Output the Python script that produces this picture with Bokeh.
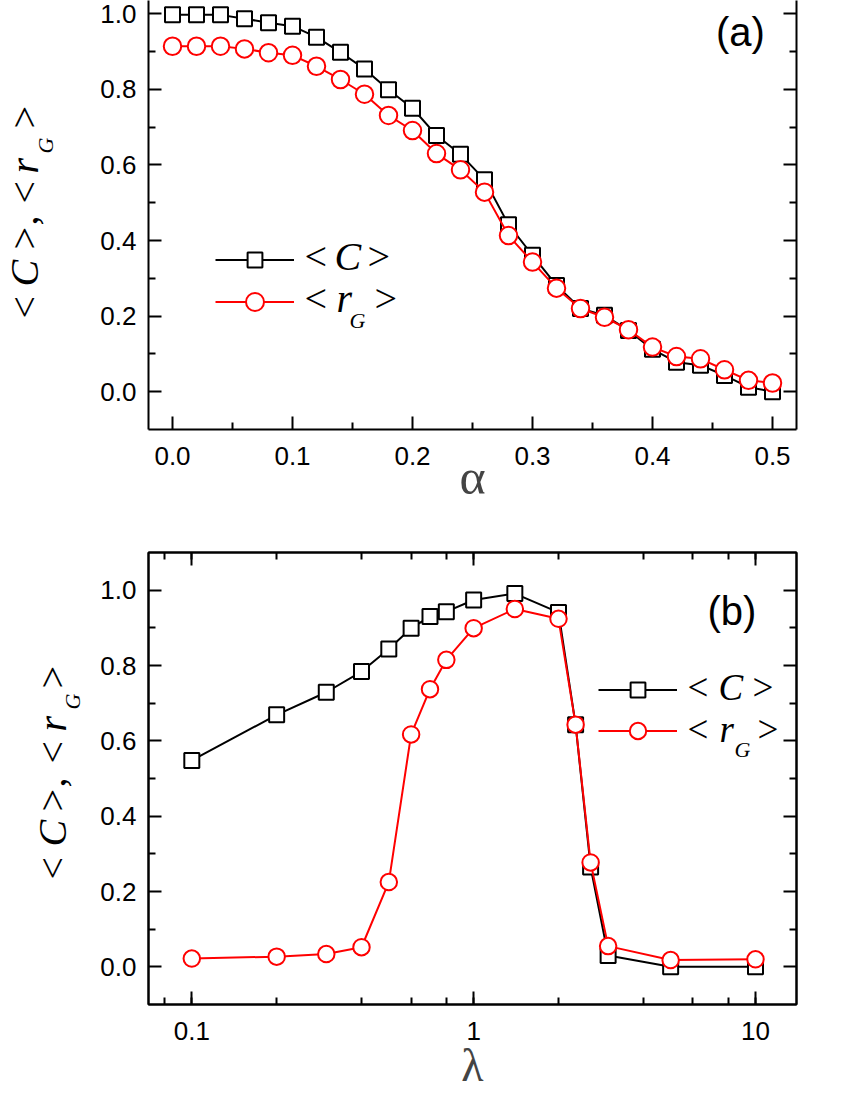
from math import pi
from bokeh.plotting import figure
from bokeh.models import (Range1d, LinearAxis, LogAxis, Legend, LegendItem, Label,
                          CustomJSTickFormatter, FixedTicker, LogTicker, PrintfTickFormatter)
from bokeh.layouts import column, row
from bokeh.embed import file_html
from bokeh.resources import INLINE

# ---------------- data ----------------
alpha = [0.00, 0.02, 0.04, 0.06, 0.08, 0.10, 0.12, 0.14, 0.16, 0.18, 0.20, 0.22, 0.24,
         0.26, 0.28, 0.30, 0.32, 0.34, 0.36, 0.38, 0.40, 0.42, 0.44, 0.46, 0.48, 0.50]
C_alpha = [0.997, 0.997, 0.997, 0.987, 0.976, 0.967, 0.938, 0.898, 0.854, 0.799, 0.750,
           0.678, 0.628, 0.561, 0.442, 0.361, 0.281, 0.220, 0.202, 0.162, 0.112, 0.078,
           0.070, 0.043, 0.012, 0.000]
rG_alpha = [0.914, 0.914, 0.914, 0.907, 0.897, 0.890, 0.861, 0.826, 0.787, 0.731, 0.691,
            0.630, 0.587, 0.528, 0.413, 0.343, 0.274, 0.220, 0.197, 0.164, 0.118, 0.093,
            0.087, 0.058, 0.030, 0.023]

lam = [0.1, 0.2, 0.3, 0.4, 0.5, 0.6, 0.7, 0.8, 1.0, 1.4, 2.0, 2.3, 2.6, 3.0, 5.0, 10.0]
C_lam = [0.548, 0.669, 0.729, 0.784, 0.844, 0.899, 0.930, 0.943, 0.974, 0.991, 0.941,
         0.643, 0.265, 0.030, 0.000, 0.000]
rG_lam = [0.022, 0.027, 0.034, 0.052, 0.225, 0.617, 0.737, 0.815, 0.899, 0.950, 0.924,
          0.643, 0.277, 0.055, 0.018, 0.020]

x_ticks_a = [0.0, 0.1, 0.2, 0.3, 0.4, 0.5]
x_minor_a = [0.05, 0.15, 0.25, 0.35, 0.45]
y_ticks = [0.0, 0.2, 0.4, 0.6, 0.8, 1.0]
y_minor = [0.1, 0.3, 0.5, 0.7, 0.9]

SERIF = "Liberation Serif"
SANS = "Liberation Sans"


def style_axis(ax, standoff=12, labels=True):
    ax.axis_line_width = 2
    ax.axis_line_color = "black"
    ax.major_tick_line_width = 2
    ax.minor_tick_line_width = 2
    ax.major_tick_in = 13
    ax.major_tick_out = 0
    ax.minor_tick_in = 7
    ax.minor_tick_out = 0
    ax.major_label_text_font = SANS
    ax.major_label_text_font_size = "26px"
    ax.major_label_text_color = "black"
    ax.major_label_standoff = standoff if labels else 0


def txt(p, x, y, text, size, italic=False, angle=0.0, font=SERIF):
    # (x, y): frame-relative pixels of the text's start and vertical middle
    p.add_layout(Label(x=x, y=y, x_units="screen", y_units="screen", text=text,
                       text_font=font, text_font_size=f"{size}px",
                       text_font_style="italic" if italic else "normal",
                       angle=angle, text_align="left", text_baseline="middle",
                       text_color="black"))


def legend_item(p, line_r, sc_r, x, y, gh):
    leg = Legend(items=[LegendItem(label=" ", renderers=[line_r, sc_r])],
                 location=(x, y), glyph_width=79, glyph_height=gh, padding=0, margin=0,
                 spacing=0, label_standoff=0, label_width=0, label_height=0,
                 label_text_font_size="1px", border_line_color=None,
                 background_fill_alpha=0)
    p.add_layout(leg)


def series(p, x, c, r, rsize):
    l1 = p.line(x, c, line_color="black", line_width=2)
    s1 = p.scatter(x, c, marker="square", size=15, line_color="black", line_width=2,
                   fill_color="white")
    l2 = p.line(x, r, line_color="#FF0000", line_width=2)
    s2 = p.scatter(x, r, marker="circle", size=rsize, line_color="#FF0000", line_width=2,
                   fill_color="white")
    return l1, s1, l2, s2


def label_panel(height, btop, bbot, pieces, base_x, sub_x):
    """Narrow figure (same frame height as its plot) carrying the rotated y-axis title."""
    f = figure(width=88, height=height, x_range=Range1d(0, 1), y_range=Range1d(0, 1),
               output_backend="svg", toolbar_location=None, title=None,
               x_axis_location=None, y_axis_location=None,
               min_border_left=0, min_border_right=0, min_border_top=btop,
               min_border_bottom=bbot)
    f.grid.visible = False
    f.outline_line_color = None
    f.border_fill_color = "white"
    f.background_fill_color = "white"
    for s, yy, it, sub in pieces:
        txt(f, sub_x if sub else base_x, yy, s, 22 if sub else 40, italic=it, angle=pi / 2)
    return f


# ---------------- panel (a) ----------------
H1, T1, B1 = 540, 0, 111
FB1 = H1 - B1          # page y of frame bottom (429)
p1 = figure(width=754, height=H1, x_range=Range1d(-0.02, 0.52), y_range=Range1d(-0.1, 1.035),
            output_backend="svg", toolbar_location=None, title=None,
            min_border_left=60, min_border_right=46, min_border_top=T1, min_border_bottom=B1)
p1.grid.visible = False
p1.outline_line_color = None
p1.background_fill_color = "white"
p1.border_fill_color = "white"

p1.xaxis.ticker = FixedTicker(ticks=x_ticks_a, minor_ticks=x_minor_a)
p1.xaxis.formatter = PrintfTickFormatter(format="%.1f")
p1.yaxis.ticker = FixedTicker(ticks=y_ticks, minor_ticks=y_minor)
p1.yaxis.formatter = PrintfTickFormatter(format="%.1f")
style_axis(p1.xaxis[0], standoff=17)
style_axis(p1.yaxis[0], standoff=12)
p1.xaxis.axis_label = "α"
p1.xaxis.axis_label_text_font = SERIF
p1.xaxis.axis_label_text_font_size = "50px"
p1.xaxis.axis_label_text_font_style = "normal"
p1.xaxis.axis_label_standoff = -19

ra = LinearAxis(ticker=FixedTicker(ticks=y_ticks, minor_ticks=y_minor),
                formatter=CustomJSTickFormatter(code="return ''"))
style_axis(ra, labels=False)
p1.add_layout(ra, "right")

l1, s1, l2, s2 = series(p1, alpha, C_alpha, rG_alpha, 17.5)
legend_item(p1, l1, s1, 67, 151.5, 37)
legend_item(p1, l2, s2, 67, 104.8, 45)

# legend texts (frame-relative pixels)
txt(p1, 156, FB1 - 256, "<", 40)
txt(p1, 186, FB1 - 256, "C", 40, italic=True)
txt(p1, 219, FB1 - 256, ">", 40)
txt(p1, 156, FB1 - 298, "<", 40)
txt(p1, 188, FB1 - 298, "r", 40, italic=True)
txt(p1, 201, FB1 - 320, "G", 22, italic=True)
txt(p1, 226, FB1 - 298, ">", 40)

txt(p1, 567.5, FB1 - 31, "(a)", 40, font=SANS)

ylab1 = label_panel(H1, T1, B1,
                    [("<", FB1 - 318, False, False), ("C", FB1 - 286, True, False),
                     (">", FB1 - 249, False, False), (",", FB1 - 225, False, False),
                     ("<", FB1 - 203, False, False), ("r", FB1 - 173, True, False),
                     ("G", FB1 - 153, True, True), (">", FB1 - 128, False, False)],
                    23.7, 44.9)

# ---------------- panel (b) ----------------
H2, T2, B2 = 560, 12, 96
FB2 = H1 + H2 - B2     # page y of frame bottom (1004)
p2 = figure(width=754, height=H2, x_axis_type="log", x_range=Range1d(0.0702, 13.98),
            y_range=Range1d(-0.1, 1.1), output_backend="svg", toolbar_location=None,
            title=None, min_border_left=60, min_border_right=46, min_border_top=T2,
            min_border_bottom=B2)
p2.grid.visible = False
p2.outline_line_color = "black"
p2.outline_line_width = 2
p2.background_fill_color = "white"
p2.border_fill_color = "white"

p2.xaxis.ticker = LogTicker()
p2.xaxis.formatter = CustomJSTickFormatter(code="return String(Math.round(tick*1000)/1000)")
p2.yaxis.ticker = FixedTicker(ticks=y_ticks, minor_ticks=y_minor)
p2.yaxis.formatter = PrintfTickFormatter(format="%.1f")
style_axis(p2.xaxis[0], standoff=17)
style_axis(p2.yaxis[0], standoff=12)
p2.xaxis.axis_label = "λ"
p2.xaxis.axis_label_text_font = SERIF
p2.xaxis.axis_label_text_font_size = "46px"
p2.xaxis.axis_label_text_font_style = "normal"
p2.xaxis.axis_label_standoff = -3

rb = LinearAxis(ticker=FixedTicker(ticks=y_ticks, minor_ticks=y_minor),
                formatter=CustomJSTickFormatter(code="return ''"))
style_axis(rb, labels=False)
p2.add_layout(rb, "right")
tb = LogAxis(ticker=LogTicker(), formatter=CustomJSTickFormatter(code="return ''"))
style_axis(tb, labels=False)
p2.add_layout(tb, "above")

m1, t1, m2, t2 = series(p2, lam, C_lam, rG_lam, 16.5)
legend_item(p2, m1, t1, 450, 296.5, 37)
legend_item(p2, m2, t2, 450, 252.8, 41)

txt(p2, 539, FB2 - 687, "<", 37)
txt(p2, 570, FB2 - 687, "C", 37, italic=True)
txt(p2, 604, FB2 - 687, ">", 37)
txt(p2, 539, FB2 - 729, "<", 37)
txt(p2, 571, FB2 - 729, "r", 37, italic=True)
txt(p2, 586, FB2 - 749, "G", 22, italic=True)
txt(p2, 609, FB2 - 729, ">", 37)

txt(p2, 559, FB2 - 610, "(b)", 40, font=SANS)

ylab2 = label_panel(H2, T2, B2,
                    [("<", FB2 - 879, False, False), ("C", FB2 - 846, True, False),
                     (">", FB2 - 811, False, False), (",", FB2 - 787, False, False),
                     ("<", FB2 - 763, False, False), ("r", FB2 - 731, True, False),
                     ("G", FB2 - 709, True, True), (">", FB2 - 688, False, False)],
                    51.9, 71.9)

layout = column(row(ylab1, p1, spacing=0), row(ylab2, p2, spacing=0), spacing=0)
open("out.html", "w").write(file_html(layout, INLINE))
